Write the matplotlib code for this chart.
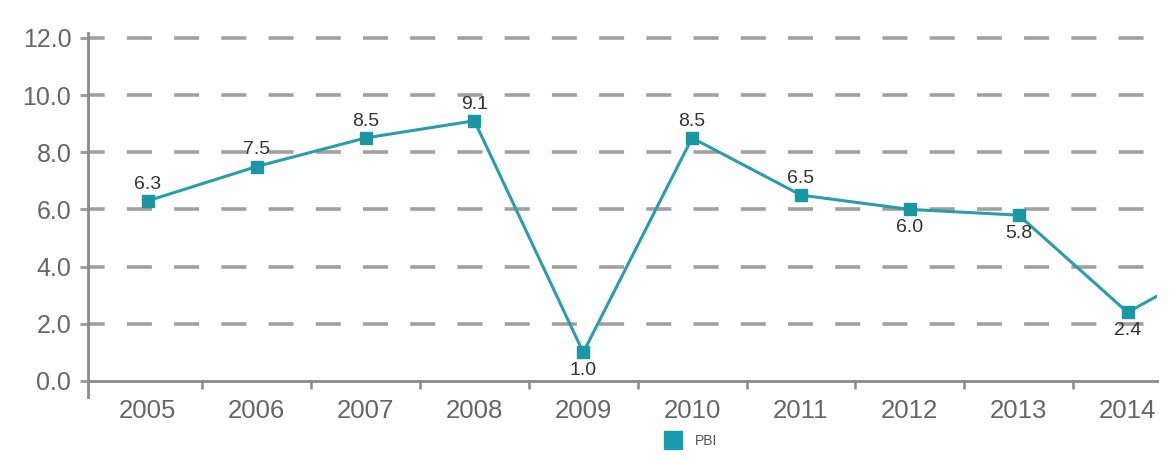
import matplotlib
matplotlib.use("Agg")
import matplotlib.pyplot as plt
from matplotlib.lines import Line2D

# Crecimiento del PBI (%)
years = ["2005", "2006", "2007", "2008", "2009", "2010", "2011", "2012", "2013", "2014", "2015"]
pbi = [6.3, 7.5, 8.5, 9.1, 1.0, 8.5, 6.5, 6.0, 5.8, 2.4, 4.5]
shown = 10  # solo se etiquetan 2005-2014
label_side = ["up", "up", "up", "up", "down", "up", "up", "down", "down", "down"]
yticks = [0, 2, 4, 6, 8, 10, 12]

plt.rcParams["font.family"] = ["Liberation Sans", "DejaVu Sans"]
plt.rcParams["lines.scale_dashes"] = False

line_color = "#2a9daa"
marker_color = "#1b96a5"
axis_gray = "#8a8a8a"
grid_gray = "#a0a0a0"

fig = plt.figure(figsize=(11.76, 4.57), dpi=100)
ax = fig.add_axes([0.0748, 0.1313, 0.9090, 0.7965])

x = list(range(len(years)))
ax.plot(x, pbi, color=line_color, lw=2.2, marker="s", ms=8.5,
        mfc=marker_color, mec=marker_color, zorder=3, clip_on=True)

for i in range(shown):
    dy = 12 if label_side[i] == "up" else -13
    ax.annotate(f"{pbi[i]:.1f}", (x[i], pbi[i]), xytext=(0, dy),
                textcoords="offset points", ha="center", va="center",
                fontsize=14, color="#333333", zorder=4)

# rejilla discontinua
ax.set_yticks(yticks)
ax.set_yticklabels([f"{v:.1f}" for v in yticks])
for v in yticks[1:]:
    ax.axhline(v, color=grid_gray, lw=2.6, ls=(6, (18, 16)), zorder=1)

ax.set_xticks(x[:shown])
ax.set_xticklabels(years[:shown])
ax.set_xticks([i + 0.5 for i in range(shown - 1)], minor=True)

ax.set_xlim(-0.55, 9.27)
ax.set_ylim(-0.56, 12.17)

for side in ["top", "right"]:
    ax.spines[side].set_visible(False)
ax.spines["bottom"].set_position(("data", 0))
ax.spines["left"].set_color(axis_gray)
ax.spines["bottom"].set_color(axis_gray)
ax.spines["left"].set_linewidth(2)
ax.spines["bottom"].set_linewidth(2)

ax.tick_params(axis="y", length=6, width=2.2, color=grid_gray, pad=6,
               labelsize=18, labelcolor="#666666")
ax.tick_params(axis="x", which="major", length=0, pad=13,
               labelsize=18.5, labelcolor="#666666")
ax.tick_params(axis="x", which="minor", length=6, width=1.8, color=axis_gray,
               direction="out")

handle = Line2D([], [], ls="none", marker="s", ms=13, mfc="#1a9cb0", mec="#1a9cb0")
fig.legend([handle], ["PBI"], loc="center", bbox_to_anchor=(0.585, 0.035),
           frameon=False, fontsize=10, labelcolor="#555555", handletextpad=0.6)

fig.savefig("out.png", dpi=100, facecolor="white")
